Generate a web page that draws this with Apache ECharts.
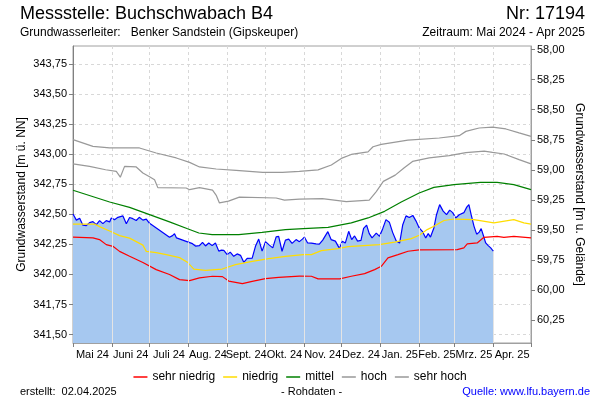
<!DOCTYPE html>
<html>
<head>
<meta charset="utf-8">
<script src="https://cdn.jsdelivr.net/npm/echarts@6/dist/echarts.min.js"></script>
<style>
html, body { margin: 0; padding: 0; background: #fff; }
#chart { width: 600px; height: 400px; }
</style>
</head>
<body>
<div id="chart"></div>
<script>
// Tage ab 01.05.2024
const monthLabels = ['Mai 24', 'Juni 24', 'Juli 24', 'Aug. 24', 'Sept. 24', 'Okt. 24', 'Nov. 24', 'Dez. 24', 'Jan. 25', 'Feb. 25', 'Mrz. 25', 'Apr. 25'];
const monthStarts = [0, 31, 61, 92, 123, 153, 184, 214, 245, 276, 304, 335, 365];
const leftTicks = [341.5, 341.75, 342.0, 342.25, 342.5, 342.75, 343.0, 343.25, 343.5, 343.75];
const rightTicks = [58.0, 58.25, 58.5, 58.75, 59.0, 59.25, 59.5, 59.75, 60.0, 60.25];
const groundLevel = 401.87;
const yMin = 341.43;
const yMax = 343.90;

const messwerte = [
  [0, 342.503], [2.7, 342.452], [5.3, 342.468], [7.9, 342.410], [10.6, 342.406], [13.2, 342.431],
  [15.9, 342.439], [18.6, 342.414], [21.2, 342.448], [23.8, 342.423], [26.5, 342.448], [29.2, 342.437],
  [30.5, 342.470], [33.1, 342.456], [35.8, 342.475], [39.8, 342.487], [42.5, 342.421], [45.1, 342.474],
  [47.7, 342.464], [50.4, 342.449], [52.8, 342.475], [55.7, 342.452], [58.4, 342.460], [61.0, 342.425],
  [76.9, 342.310], [79.3, 342.323], [80.9, 342.338], [82.5, 342.304], [91.3, 342.271], [95.2, 342.256],
  [97.6, 342.236], [100.8, 342.240], [103.2, 342.267], [105.6, 342.237], [108.2, 342.262], [110.9, 342.240],
  [113.5, 342.262], [116.2, 342.194], [118.3, 342.202], [120.2, 342.201], [122.9, 342.165], [125.3, 342.186],
  [128.1, 342.151], [130.8, 342.171], [133.5, 342.159], [136.1, 342.101], [138.8, 342.134], [142.8, 342.136],
  [145.4, 342.234], [148.0, 342.294], [150.7, 342.194], [153.4, 342.273], [156.5, 342.244], [159.2, 342.221],
  [161.9, 342.312], [163.9, 342.317], [166.6, 342.193], [169.3, 342.286], [171.9, 342.294], [174.6, 342.258],
  [177.8, 342.290], [180.4, 342.273], [182.8, 342.294], [184.4, 342.311], [187.0, 342.262], [190.0, 342.261],
  [193.7, 342.254], [196.3, 342.252], [199.0, 342.286], [203.1, 342.356], [205.7, 342.290], [209.1, 342.277],
  [212.3, 342.217], [214.6, 342.277], [217.0, 342.261], [219.7, 342.359], [222.1, 342.290], [224.4, 342.320],
  [226.8, 342.277], [229.5, 342.284], [231.6, 342.383], [234.0, 342.410], [236.1, 342.340], [238.3, 342.304],
  [241.7, 342.344], [244.3, 342.317], [246.9, 342.383], [249.4, 342.456], [252.1, 342.435], [254.8, 342.348],
  [257.6, 342.279], [260.3, 342.261], [262.8, 342.414], [265.4, 342.487], [268.0, 342.473], [270.8, 342.491],
  [273.3, 342.446], [275.9, 342.387], [278.6, 342.356], [281.1, 342.304], [283.1, 342.340], [284.9, 342.311],
  [287.6, 342.387], [289.7, 342.497], [292.2, 342.581], [295.0, 342.527], [297.7, 342.497], [300.2, 342.535],
  [302.6, 342.514], [305.0, 342.470], [307.8, 342.497], [311.5, 342.514], [313.8, 342.560], [315.5, 342.581],
  [317.3, 342.497], [319.6, 342.400], [321.7, 342.335], [323.7, 342.352], [325.3, 342.381], [327.5, 342.309],
  [328.9, 342.262], [330.9, 342.240], [332.9, 342.221], [335.0, 342.193]
];

const sehrNiedrig = [
  [0, 342.311], [15.9, 342.304], [21.1, 342.290], [26.5, 342.248], [31.8, 342.234], [37.1, 342.192],
  [45.1, 342.151], [55.7, 342.099], [66.3, 342.040], [76.9, 342.000], [84.9, 341.957], [92.9, 341.949],
  [100.8, 341.971], [111.2, 341.985], [119.1, 341.982], [124.1, 341.945], [135.0, 341.924], [142.8, 341.943],
  [153.4, 341.965], [163.9, 341.976], [180.4, 341.986], [190.0, 341.985], [195.3, 341.963], [212.5, 341.963],
  [221.8, 341.985], [232.4, 342.007], [240.4, 342.040], [245.7, 342.068], [251.0, 342.138], [259.0, 342.165],
  [267.0, 342.193], [275.9, 342.204], [306.2, 342.207], [311.5, 342.221], [314.2, 342.254], [322.1, 342.262],
  [327.5, 342.309], [338.0, 342.317], [343.4, 342.309], [351.3, 342.317], [365, 342.304]
];

const niedrig = [
  [0, 342.419], [17.2, 342.419], [21.1, 342.398], [29.2, 342.361], [37.1, 342.323], [45.1, 342.302],
  [50.4, 342.273], [55.7, 342.244], [58.4, 342.192], [66.3, 342.182], [74.3, 342.165], [84.9, 342.140],
  [91.5, 342.099], [96.3, 342.045], [105.6, 342.034], [118.9, 342.045], [129.5, 342.082], [142.8, 342.109],
  [156.0, 342.132], [169.3, 342.151], [183.6, 342.165], [190.0, 342.165], [197.9, 342.198], [211.2, 342.215],
  [219.2, 342.231], [244.1, 342.248], [256.3, 342.269], [269.6, 342.298], [275.9, 342.326], [282.3, 342.373],
  [287.6, 342.401], [295.6, 342.449], [303.6, 342.461], [319.5, 342.456], [335.4, 342.429], [351.3, 342.456],
  [359.3, 342.429], [365, 342.419]
];

const mittel = [
  [0, 342.700], [29.2, 342.603], [45.1, 342.558], [61.0, 342.498], [76.9, 342.437], [91.3, 342.380],
  [100.3, 342.345], [110.9, 342.331], [132.1, 342.331], [150.7, 342.350], [169.3, 342.373], [183.6, 342.381],
  [203.3, 342.392], [221.8, 342.429], [235.1, 342.470], [248.3, 342.525], [261.6, 342.603], [275.9, 342.678],
  [287.6, 342.724], [303.6, 342.747], [324.7, 342.766], [338.0, 342.766], [351.3, 342.747], [365, 342.705]
];

const hoch = [
  [0, 342.920], [13.2, 342.899], [26.0, 342.871], [34.5, 342.857], [37.7, 342.809], [41.1, 342.899],
  [50.4, 342.894], [55.7, 342.844], [61.0, 342.813], [65.0, 342.788], [67.6, 342.722], [90.2, 342.719],
  [92.9, 342.705], [100.8, 342.722], [111.2, 342.701], [114.3, 342.655], [116.7, 342.595], [123.9, 342.610],
  [132.6, 342.643], [161.9, 342.636], [168.5, 342.618], [180.4, 342.626], [198.7, 342.630], [217.8, 342.606],
  [236.1, 342.618], [241.7, 342.689], [247.3, 342.774], [256.8, 342.826], [264.0, 342.888], [270.6, 342.940],
  [283.9, 342.969], [299.8, 342.988], [313.1, 343.013], [327.7, 343.025], [334.3, 343.015], [343.6, 343.002],
  [355.5, 342.955], [365, 342.920]
];

const sehrHoch = [
  [0, 343.121], [15.9, 343.065], [29.2, 343.052], [53.0, 343.052], [66.3, 343.010], [82.3, 342.969],
  [92.9, 342.932], [100.8, 342.894], [114.1, 342.877], [130.0, 342.866], [151.2, 342.849], [166.9, 342.849],
  [180.4, 342.857], [195.3, 342.870], [205.9, 342.910], [213.8, 342.965], [221.8, 342.998], [235.1, 343.020],
  [239.1, 343.062], [245.7, 343.082], [266.9, 343.117], [291.9, 343.135], [307.8, 343.154], [313.1, 343.190],
  [323.7, 343.218], [334.3, 343.226], [345.0, 343.210], [355.5, 343.177], [365, 343.148]
];

const monthMids = monthLabels.map((m, i) => (monthStarts[i] + monthStarts[i + 1]) / 2);

function levelAt(d) {
  for (let i = 1; i < messwerte.length; i++) {
    const a = messwerte[i - 1], b = messwerte[i];
    if (d >= a[0] && d <= b[0]) return a[1] + (b[1] - a[1]) * (d - a[0]) / (b[0] - a[0]);
  }
  return null;
}

// helle Monatslinien in der Flaeche
const fillLines = monthStarts
  .filter(d => d > 0 && d <= messwerte[messwerte.length - 1][0])
  .map(d => [{ coord: [d, yMin] }, { coord: [d, levelAt(d)] }]);

const fmt = v => v.toFixed(2).replace('.', ',');
const font = 'Liberation Sans, Arial, sans-serif';

const myChart = echarts.init(document.getElementById('chart'));

const option = {
  animation: false,
  textStyle: { fontFamily: font },
  title: [
    { text: 'Messstelle: Buchschwabach B4', left: 20, top: 5, padding: 0, textStyle: { fontSize: 18, fontWeight: 'normal', color: '#000' } },
    { text: 'Nr: 17194', right: 15, top: 5, padding: 0, textStyle: { fontSize: 18, fontWeight: 'normal', color: '#000' } },
    { text: 'Grundwasserleiter:   Benker Sandstein (Gipskeuper)', left: 20, top: 27, padding: 0, textStyle: { fontSize: 12, fontWeight: 'normal', color: '#000' } },
    { text: 'Zeitraum: Mai 2024 - Apr 2025', right: 15, top: 27, padding: 0, textStyle: { fontSize: 12, fontWeight: 'normal', color: '#000' } },
    { text: 'erstellt:  02.04.2025', left: 20, top: 386, padding: 0, textStyle: { fontSize: 11, fontWeight: 'normal', color: '#000' } },
    { text: '- Rohdaten -', left: 281, top: 386, padding: 0, textStyle: { fontSize: 11, fontWeight: 'normal', color: '#000' } },
    { text: 'Quelle: www.lfu.bayern.de', right: 10, top: 386, padding: 0, textStyle: { fontSize: 11, fontWeight: 'normal', color: '#0000ff' } }
  ],
  legend: {
    data: ['sehr niedrig', 'niedrig', 'mittel', 'hoch', 'sehr hoch'],
    left: 'center',
    top: 366,
    icon: 'rect',
    itemWidth: 14,
    itemHeight: 1.5,
    itemGap: 8,
    textStyle: { fontSize: 12, color: '#000' }
  },
  grid: {
    left: 73, right: 69, top: 46, bottom: 57,
    show: true, borderColor: '#a0a0a0', borderWidth: 1
  },
  xAxis: {
    type: 'value',
    min: 0,
    max: 365,
    axisLine: { show: true, lineStyle: { color: '#a0a0a0' } },
    axisTick: { show: true, customValues: monthStarts, length: 4, lineStyle: { color: '#808080' } },
    axisLabel: {
      customValues: monthMids,
      color: '#000',
      fontSize: 11,
      margin: 6,
      formatter: v => {
        let best = 0;
        monthMids.forEach((m, i) => { if (Math.abs(m - v) < Math.abs(monthMids[best] - v)) best = i; });
        return monthLabels[best];
      }
    },
    splitLine: { show: true, lineStyle: { color: '#d8d8d8', type: [3, 3] } }
  },
  yAxis: [
    {
      type: 'value',
      position: 'left',
      min: yMin,
      max: yMax,
      name: 'Grundwasserstand [m ü. NN]',
      nameLocation: 'middle',
      nameGap: 45,
      nameMoveOverlap: false,
      nameTextStyle: { fontSize: 12, color: '#000' },
      axisLine: { show: true, lineStyle: { color: '#808080' } },
      axisTick: { show: true, customValues: leftTicks, length: 4, lineStyle: { color: '#808080' } },
      axisLabel: { customValues: leftTicks, formatter: fmt, color: '#000', fontSize: 11, margin: 6 },
      splitLine: { show: true, lineStyle: { color: '#d8d8d8', type: [3, 3] } }
    },
    {
      type: 'value',
      position: 'right',
      inverse: true,
      min: groundLevel - yMax,
      max: groundLevel - yMin,
      name: 'Grundwasserstand [m u. Gelände]',
      nameLocation: 'middle',
      nameRotate: -90,
      nameGap: 42,
      nameMoveOverlap: false,
      nameTextStyle: { fontSize: 12, color: '#000' },
      axisLine: { show: true, lineStyle: { color: '#a0a0a0' } },
      axisTick: { show: true, customValues: rightTicks, length: 4, lineStyle: { color: '#808080' } },
      axisLabel: { customValues: rightTicks, formatter: fmt, color: '#000', fontSize: 11, margin: 6 },
      splitLine: { show: false }
    }
  ],
  series: [
    {
      name: 'Messwerte',
      type: 'line',
      data: messwerte,
      showSymbol: false,
      lineStyle: { color: '#0000ff', width: 1.2 },
      itemStyle: { color: '#0000ff' },
      areaStyle: { color: '#a6c8f0', opacity: 1, origin: 'start' },
      markLine: {
        silent: true,
        symbol: 'none',
        label: { show: false },
        lineStyle: { color: '#e4e4e4', type: 'solid', width: 1 },
        data: fillLines
      }
    },
    { name: 'sehr niedrig', type: 'line', data: sehrNiedrig, showSymbol: false, lineStyle: { color: '#ff0000', width: 1.2 }, itemStyle: { color: '#ff0000' } },
    { name: 'niedrig', type: 'line', data: niedrig, showSymbol: false, lineStyle: { color: '#ffdd00', width: 1.2 }, itemStyle: { color: '#ffdd00' } },
    { name: 'mittel', type: 'line', data: mittel, showSymbol: false, lineStyle: { color: '#008000', width: 1.2 }, itemStyle: { color: '#008000' } },
    { name: 'hoch', type: 'line', data: hoch, showSymbol: false, lineStyle: { color: '#999999', width: 1.2 }, itemStyle: { color: '#999999' } },
    { name: 'sehr hoch', type: 'line', data: sehrHoch, showSymbol: false, lineStyle: { color: '#999999', width: 1.2 }, itemStyle: { color: '#999999' } }
  ]
};

myChart.setOption(option);
window.addEventListener('resize', function () {
  myChart.resize();
});
</script>
</body>
</html>
